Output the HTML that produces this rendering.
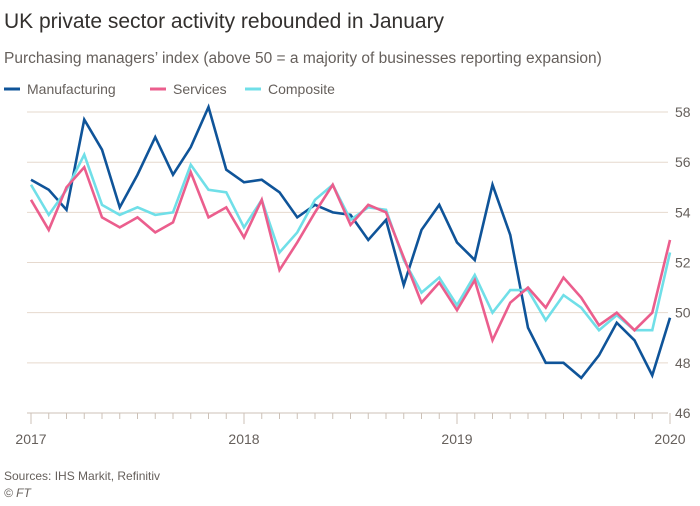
<!DOCTYPE html>
<html><head><meta charset="utf-8"><style>
body{margin:0;background:#fff;width:700px;height:501px;overflow:hidden;font-family:"Liberation Sans",sans-serif}
</style></head><body>
<svg width="700" height="501" viewBox="0 0 700 501">
<text x="4" y="28" font-size="21" fill="#33302e">UK private sector activity rebounded in January</text>
<text x="4" y="63" font-size="15.5" fill="#66605c">Purchasing managers’ index (above 50 = a majority of businesses reporting expansion)</text>
<g id="legend" font-size="14" fill="#66605c"></g>
<g id="grid"></g><g id="series"></g><g id="xaxis"></g>
<text x="4" y="480" font-size="12" fill="#66605c">Sources: IHS Markit, Refinitiv</text>
<text x="4" y="497" font-size="12" font-style="italic" fill="#66605c">© FT</text>
</svg>
<script>
const manufacturing=[55.3,54.9,54.1,57.7,56.5,54.2,55.5,57.0,55.5,56.6,58.2,55.7,55.2,55.3,54.8,53.8,54.3,54.0,53.9,52.9,53.7,51.1,53.3,54.3,52.8,52.1,55.1,53.1,49.4,48.0,48.0,47.4,48.3,49.6,48.9,47.5,49.8];
const services=[54.5,53.3,55.0,55.8,53.8,53.4,53.8,53.2,53.6,55.6,53.8,54.2,53.0,54.5,51.7,52.8,54.0,55.1,53.5,54.3,54.0,52.2,50.4,51.2,50.1,51.3,48.9,50.4,51.0,50.2,51.4,50.6,49.5,50.0,49.3,50.0,52.9];
const composite=[55.1,53.9,54.9,56.3,54.3,53.9,54.2,53.9,54.0,55.9,54.9,54.8,53.4,54.5,52.4,53.2,54.5,55.1,53.7,54.2,54.1,52.1,50.8,51.4,50.3,51.5,50.0,50.9,50.9,49.7,50.7,50.2,49.3,49.9,49.3,49.3,52.4];
const yTicks=[46,48,50,52,54,56,58];
const yearLabels=["2017","2018","2019","2020"];
const seriesNames=["Manufacturing","Services","Composite"];
const colors=["#0f5499","#eb5e8d","#70dfe8"];
const NS="http://www.w3.org/2000/svg";
const X=i=>31+i*17.75;
const Y=v=>413-(v-46)*25.08;
function mk(t,a,p){const e=document.createElementNS(NS,t);for(const k in a)e.setAttribute(k,a[k]);p.appendChild(e);return e;}
const grid=document.getElementById('grid');
yTicks.forEach(v=>{
  if(v>46){const l=mk('line',{x1:27,x2:668,y1:Y(v),y2:Y(v),stroke:'#e6d9ce','stroke-width':1},grid);
  
  }
  const t=mk('text',{x:675,y:Y(v)+5,'font-size':14,fill:'#66605c'},grid);t.textContent=v;
  
  
});
const xa=document.getElementById('xaxis');
const ax=mk('line',{x1:27,x2:668,y1:413,y2:413,stroke:'#ccc1b7','stroke-width':1},xa);


for(let i=0;i<=36;i++){const yr=i%12==0;const t=mk('line',{x1:X(i),x2:X(i),y1:413,y2:yr?424:419,stroke:'#ccc1b7','stroke-width':1},xa);

}
yearLabels.forEach((s,k)=>{const t=mk('text',{x:X(k*12),y:444,'font-size':14,fill:'#66605c','text-anchor':'middle'},xa);t.textContent=s;

});
const sg=document.getElementById('series');
[manufacturing,composite,services].forEach((d,k)=>{
  const idx=[0,2,1][k];
  const p=mk('polyline',{points:d.map((v,i)=>X(i)+','+Y(v)).join(' '),fill:'none',stroke:colors[idx],'stroke-width':2.6,'stroke-linejoin':'miter'},sg);
  
  
});
const lg=document.getElementById('legend');
const lx=[4,150,245];
seriesNames.forEach((n,k)=>{
  const l=mk('line',{x1:lx[k],x2:lx[k]+16,y1:89,y2:89,stroke:colors[k],'stroke-width':3},lg);
  
  
  const t=mk('text',{x:lx[k]+23,y:94},lg);t.textContent=n;
  
  
});
</script>
</body></html>
